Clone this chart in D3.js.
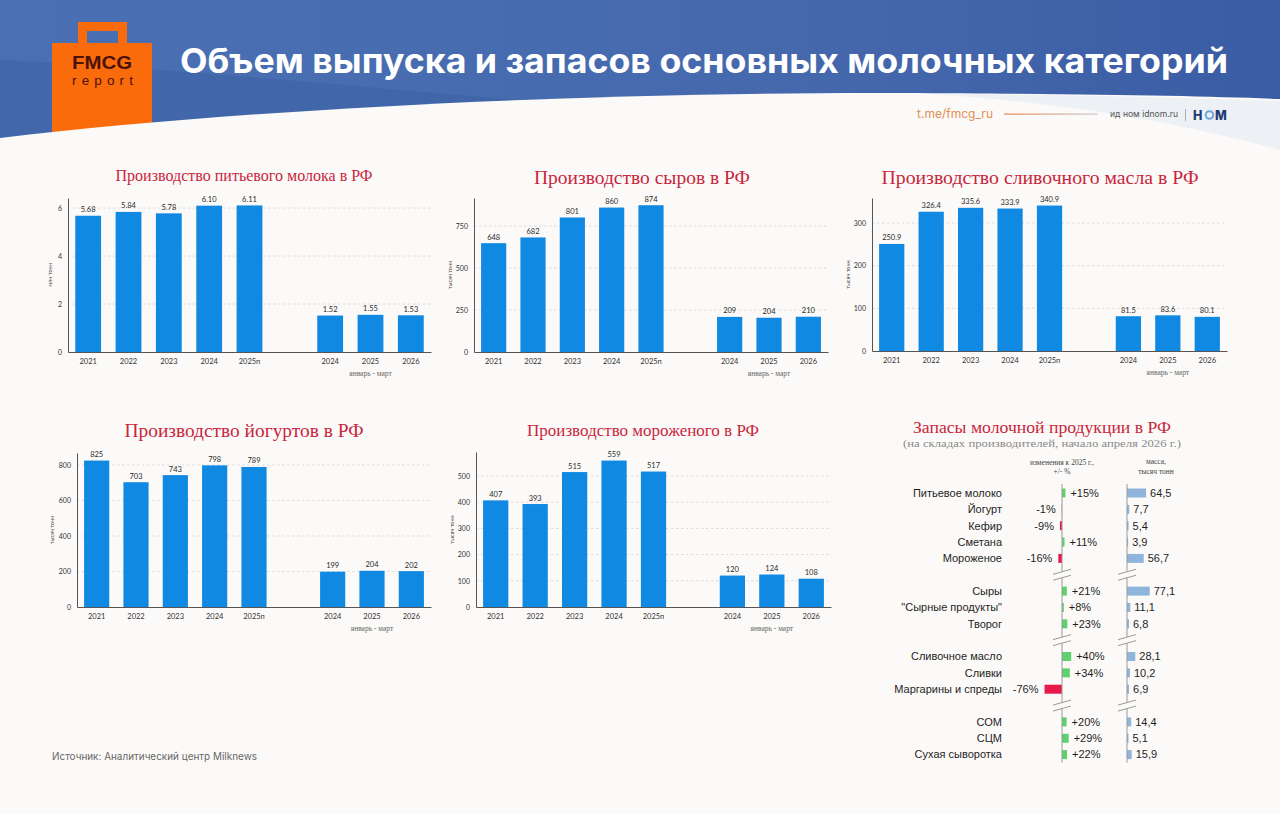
<!DOCTYPE html>
<html>
<head>
<meta charset="utf-8">
<script src="https://cdn.jsdelivr.net/npm/d3@7"></script>
<style>
  html, body { margin: 0; padding: 0; background: #fcfaf8; }
  svg { display: block; }
</style>
</head>
<body>
<svg id="page"></svg>
<script>
// ---- data ----
const yearLabels = ["2021", "2022", "2023", "2024", "2025п"];
const quarterLabels = ["2024", "2025", "2026"];

const milkYear = [5.68, 5.84, 5.78, 6.10, 6.11];
const milkQuarter = [1.52, 1.55, 1.53];
const milkTicks = [0, 2, 4, 6];

const cheeseYear = [648, 682, 801, 860, 874];
const cheeseQuarter = [209, 204, 210];
const cheeseTicks = [0, 250, 500, 750];

const butterYear = [250.9, 326.4, 335.6, 333.9, 340.9];
const butterQuarter = [81.5, 83.6, 80.1];
const butterTicks = [0, 100, 200, 300];

const yogurtYear = [825, 703, 743, 798, 789];
const yogurtQuarter = [199, 204, 202];
const yogurtTicks = [0, 200, 400, 600, 800];

const iceYear = [407, 393, 515, 559, 517];
const iceQuarter = [120, 124, 108];
const iceTicks = [0, 100, 200, 300, 400, 500];

const stockLabels = ["Питьевое молоко", "Йогурт", "Кефир", "Сметана", "Мороженое",
    "Сыры", "\"Сырные продукты\"", "Творог",
    "Сливочное масло", "Сливки", "Маргарины и спреды",
    "СОМ", "СЦМ", "Сухая сыворотка"];
const stockGroups = [0, 0, 0, 0, 0, 1, 1, 1, 2, 2, 2, 3, 3, 3];
const stockChange = [15, -1, -9, 11, -16, 21, 8, 23, 40, 34, -76, 20, 29, 22];
const stockMass = [64.5, 7.7, 5.4, 3.9, 56.7, 77.1, 11.1, 6.8, 28.1, 10.2, 6.9, 14.4, 5.1, 15.9];

// ---- layout ----
const W = 1280, H = 814;
const BG = "#fcfaf8";
const BAR = "#0f89e2";
const RED = "#c8263d";
const SERIF = "'Liberation Serif', 'DejaVu Serif', serif";
const SANS = "Lato, 'Liberation Sans', sans-serif";

const charts = [
    {title: "Производство питьевого молока в РФ", year: milkYear, quarter: milkQuarter, ticks: milkTicks,
     unit: "млн тонн", fmt: d3.format(".2f"), x0: 68, x1: 431, top: 198, base: 352, max: 6.42,
     titleX: 244, titleY: 181, titleSize: 16, titleW: 257, unitDx: 16},
    {title: "Производство сыров в РФ", year: cheeseYear, quarter: cheeseQuarter, ticks: cheeseTicks,
     unit: "тысяч тонн", fmt: d3.format("d"), x0: 474, x1: 828, top: 198, base: 352, max: 917,
     titleX: 642, titleY: 184, titleSize: 19, titleW: 216, unitDx: 22},
    {title: "Производство сливочного масла в РФ", year: butterYear, quarter: butterQuarter, ticks: butterTicks,
     unit: "тысяч тонн", fmt: d3.format(".1f"), x0: 872, x1: 1227, top: 198, base: 351, max: 358.6,
     titleX: 1040, titleY: 184, titleSize: 19, titleW: 317, unitDx: 22},
    {title: "Производство йогуртов в РФ", year: yogurtYear, quarter: yogurtQuarter, ticks: yogurtTicks,
     unit: "тысяч тонн", fmt: d3.format("d"), x0: 77, x1: 431, top: 453, base: 607, max: 867.6,
     titleX: 244, titleY: 437, titleSize: 19, titleW: 239, unitDx: 23},
    {title: "Производство мороженого в РФ", year: iceYear, quarter: iceQuarter, ticks: iceTicks,
     unit: "тысяч тонн", fmt: d3.format("d"), x0: 476, x1: 831, top: 452, base: 607, max: 591.6,
     titleX: 643, titleY: 436, titleSize: 17, titleW: 232, unitDx: 22}
];

const svg = d3.select("#page")
    .attr("width", W)
    .attr("height", H)
    .attr("viewBox", [0, 0, W, H].join(" "));

// ---- header ----
const defs = svg.append("defs");
const hdr = defs.append("linearGradient").attr("id", "hdr").attr("x1", 0).attr("x2", 1).attr("y1", 0).attr("y2", 0);
hdr.append("stop").attr("offset", 0).attr("stop-color", "#4a70b3");
hdr.append("stop").attr("offset", 0.6).attr("stop-color", "#4669ae");
hdr.append("stop").attr("offset", 1).attr("stop-color", "#3a5ca4");
const lineGrad = defs.append("linearGradient").attr("id", "tgline").attr("x1", 0).attr("x2", 1);
lineGrad.append("stop").attr("offset", 0).attr("stop-color", "#e8874a");
lineGrad.append("stop").attr("offset", 1).attr("stop-color", "#c9c9d2");

svg.append("rect").attr("width", W).attr("height", 160).attr("fill", "url(#hdr)");
svg.append("path")
    .attr("d", "M0,60 C130,66 340,84 560,104 L0,142 Z")
    .attr("fill", "#3d60a4").attr("opacity", 0.55);

// bag logo
svg.append("rect").attr("x", 82.5).attr("y", 26.5).attr("width", 40).attr("height", 22)
    .attr("fill", "none").attr("stroke", "#fa6b0c").attr("stroke-width", 9);
svg.append("rect").attr("x", 52).attr("y", 43).attr("width", 100).attr("height", 100).attr("fill", "#fa6b0c");

// white page below the curve
svg.append("path")
    .attr("d", "M0,138 C250,108 600,92 900,93 C1100,94 1200,96 1280,99 L1280,814 L0,814 Z")
    .attr("fill", BG);
svg.append("path")
    .attr("d", "M930,94 C1100,95 1220,99 1280,101 L1280,150 C1180,122 1060,102 930,94 Z")
    .attr("fill", "#e3e9f2").attr("opacity", 0.6);

svg.append("text").attr("x", 72).attr("y", 69).text("FMCG")
    .attr("font-family", "'Liberation Sans', Arial, sans-serif").attr("font-weight", 700)
    .attr("font-size", 19).attr("fill", "#4a1208")
    .attr("textLength", 60).attr("lengthAdjust", "spacingAndGlyphs");
svg.append("text").attr("x", 72).attr("y", 85).text("report")
    .attr("font-family", "'Liberation Sans', Arial, sans-serif")
    .attr("font-size", 13.5).attr("fill", "#4a1208")
    .attr("textLength", 61).attr("lengthAdjust", "spacing");

svg.append("text").attr("x", 180).attr("y", 73)
    .text("Объем выпуска и запасов основных молочных категорий")
    .attr("font-family", "Inter, 'Open Sans', sans-serif").attr("font-weight", 700)
    .attr("font-size", 34).attr("fill", "#ffffff")
    .attr("textLength", 1048).attr("lengthAdjust", "spacingAndGlyphs");

// links
svg.append("text").attr("x", 917).attr("y", 118).text("t.me/fmcg_ru")
    .attr("font-family", "Inter, sans-serif").attr("font-size", 12.5).attr("fill", "#e38f55")
    .attr("textLength", 76).attr("lengthAdjust", "spacingAndGlyphs");
svg.append("rect").attr("x", 1004).attr("y", 113.5).attr("width", 94).attr("height", 1.2).attr("fill", "url(#tgline)");
svg.append("text").attr("x", 1110).attr("y", 117).text("ид ном idnom.ru")
    .attr("font-family", "Inter, sans-serif").attr("font-size", 9).attr("fill", "#555")
    .attr("textLength", 68).attr("lengthAdjust", "spacingAndGlyphs");
svg.append("line").attr("x1", 1185.5).attr("x2", 1185.5).attr("y1", 109).attr("y2", 121)
    .attr("stroke", "#aab").attr("stroke-width", 1);
svg.append("text").attr("x", 1193).attr("y", 119.5).text("Н")
    .attr("font-family", "Inter, sans-serif").attr("font-weight", 800).attr("font-size", 12.5).attr("fill", "#1e3a72");
svg.append("circle").attr("cx", 1209.5).attr("cy", 115).attr("r", 3.8)
    .attr("fill", "none").attr("stroke", "#6fa6dc").attr("stroke-width", 2);
svg.append("text").attr("x", 1215).attr("y", 119.5).text("М")
    .attr("font-family", "Inter, sans-serif").attr("font-weight", 800).attr("font-size", 12.5).attr("fill", "#1e3a72");

// ---- bar charts ----
function drawBarChart(c) {
    const keys = yearLabels.map((d, i) => "y" + i)
        .concat(["gap"], quarterLabels.map((d, i) => "q" + i));
    const names = {};
    yearLabels.forEach((d, i) => names["y" + i] = d);
    quarterLabels.forEach((d, i) => names["q" + i] = d);
    names.gap = "";

    const x = d3.scaleBand().domain(keys).range([c.x0, c.x1]).paddingInner(0.36).paddingOuter(0.18);
    const y = d3.scaleLinear().domain([0, c.max]).range([c.base, c.top]);
    const rows = c.year.map((v, i) => ({key: "y" + i, v: v}))
        .concat(c.quarter.map((v, i) => ({key: "q" + i, v: v})));

    const g = svg.append("g");

    // dashed reference lines
    g.selectAll("line.grid").data(c.ticks.filter(t => t > 0)).join("line")
        .attr("class", "grid")
        .attr("x1", c.x0).attr("x2", c.x1)
        .attr("y1", d => y(d)).attr("y2", d => y(d))
        .attr("stroke", "#cfcfcf").attr("stroke-width", 0.7).attr("stroke-dasharray", "2.5,2.5");

    // bars
    g.selectAll("rect.bar").data(rows).join("rect")
        .attr("class", "bar")
        .attr("x", d => x(d.key))
        .attr("width", x.bandwidth())
        .attr("y", d => y(d.v))
        .attr("height", d => c.base - y(d.v))
        .attr("fill", BAR);

    g.selectAll("text.val").data(rows).join("text")
        .attr("class", "val")
        .attr("x", d => x(d.key) + x.bandwidth() / 2)
        .attr("y", d => y(d.v) - 3.5)
        .attr("text-anchor", "middle")
        .attr("font-family", SANS).attr("font-size", 7.5).attr("fill", "#2a2a2a")
        .text(d => c.fmt(d.v));

    // y axis
    const yAxis = g.append("g")
        .attr("transform", `translate(${c.x0},0)`)
        .call(d3.axisLeft(y).tickValues(c.ticks).tickSize(0).tickPadding(6).tickFormat(d3.format("d")));
    yAxis.select(".domain").attr("stroke", "#555").attr("stroke-width", 1);
    yAxis.selectAll("text").attr("font-family", SANS).attr("font-size", 7).attr("fill", "#333");

    // x axis
    const xAxis = g.append("g")
        .attr("transform", `translate(0,${c.base})`)
        .call(d3.axisBottom(x).tickSize(0).tickPadding(7).tickFormat(k => names[k]));
    xAxis.select(".domain").attr("stroke", "#555").attr("stroke-width", 1);
    xAxis.selectAll("text").attr("font-family", SANS).attr("font-size", 7.5).attr("fill", "#333");

    g.append("text")
        .attr("x", x("q1") + x.bandwidth() / 2)
        .attr("y", c.base + 24)
        .attr("text-anchor", "middle")
        .attr("font-family", SERIF).attr("font-size", 7.5).attr("fill", "#666")
        .text("январь - март");

    g.append("text")
        .attr("transform", `translate(${c.x0 - c.unitDx},${(c.top + c.base) / 2}) rotate(-90)`)
        .attr("text-anchor", "middle")
        .attr("font-family", SANS).attr("font-size", 5.5).attr("fill", "#444")
        .text(c.unit);

    g.append("text")
        .attr("x", c.titleX).attr("y", c.titleY)
        .attr("text-anchor", "middle")
        .attr("font-family", SERIF).attr("font-size", c.titleSize).attr("fill", RED)
        .attr("textLength", c.titleW).attr("lengthAdjust", "spacingAndGlyphs")
        .text(c.title);
}

charts.forEach(drawBarChart);

// ---- stocks panel ----
const sp = {labelX: 1002, chgAxis: 1062, massAxis: 1127, row0: 493, row16: 754.6, barH: 9};
const slots = stockLabels.map((d, i) => i + stockGroups[i]);
const breaks = [5, 9, 13];
const yRow = d3.scaleLinear().domain([0, 16]).range([sp.row0, sp.row16]);
const chgX = d3.scaleLinear().domain([-100, 100]).range([sp.chgAxis - 23, sp.chgAxis + 23]);
const massX = d3.scaleLinear().domain([0, 100]).range([sp.massAxis, sp.massAxis + 29.5]);
const stock = stockLabels.map((d, i) => ({label: d, chg: stockChange[i], mass: stockMass[i], slot: slots[i]}));
const ARIAL = "'Liberation Sans', Arial, sans-serif";

const sg = svg.append("g");

sg.append("text").attr("x", 1042).attr("y", 433).attr("text-anchor", "middle")
    .attr("font-family", SERIF).attr("font-size", 16).attr("fill", RED)
    .attr("textLength", 258).attr("lengthAdjust", "spacingAndGlyphs")
    .text("Запасы молочной продукции в РФ");
sg.append("text").attr("x", 1042).attr("y", 447).attr("text-anchor", "middle")
    .attr("font-family", SERIF).attr("font-size", 11).attr("fill", "#8a8a8a")
    .attr("textLength", 278).attr("lengthAdjust", "spacingAndGlyphs")
    .text("(на складах производителей, начало апреля 2026 г.)");

[["изменения к 2025 г.,", sp.chgAxis, 465], ["+/- %", sp.chgAxis, 474],
 ["масса,", sp.massAxis + 29, 464], ["тысяч тонн", sp.massAxis + 29, 474]].forEach(h => {
    sg.append("text").attr("x", h[1]).attr("y", h[2]).attr("text-anchor", "middle")
        .attr("font-family", SERIF).attr("font-size", 7.5).attr("fill", "#444").text(h[0]);
});

sg.selectAll("text.lab").data(stock).join("text")
    .attr("class", "lab")
    .attr("x", sp.labelX).attr("y", d => yRow(d.slot)).attr("dy", "0.35em")
    .attr("text-anchor", "end")
    .attr("font-family", ARIAL).attr("font-size", 11).attr("fill", "#1e1e1e")
    .text(d => d.label);

sg.selectAll("rect.chg").data(stock).join("rect")
    .attr("class", "chg")
    .attr("x", d => Math.min(chgX(0), chgX(d.chg)))
    .attr("width", d => Math.abs(chgX(d.chg) - chgX(0)))
    .attr("y", d => yRow(d.slot) - sp.barH / 2)
    .attr("height", sp.barH)
    .attr("fill", d => d.chg >= 0 ? "#5fd16c" : "#e8194b");

sg.selectAll("text.chgv").data(stock).join("text")
    .attr("class", "chgv")
    .attr("x", d => d.chg >= 0 ? chgX(d.chg) + 5 : chgX(d.chg) - 6)
    .attr("y", d => yRow(d.slot)).attr("dy", "0.35em")
    .attr("text-anchor", d => d.chg >= 0 ? "start" : "end")
    .attr("font-family", ARIAL).attr("font-size", 11).attr("fill", "#1e1e1e")
    .text(d => (d.chg > 0 ? "+" : "") + d.chg + "%");

sg.selectAll("rect.mass").data(stock).join("rect")
    .attr("class", "mass")
    .attr("x", massX(0))
    .attr("width", d => massX(d.mass) - massX(0))
    .attr("y", d => yRow(d.slot) - sp.barH / 2)
    .attr("height", sp.barH)
    .attr("fill", "#8fb5dc");

sg.selectAll("text.massv").data(stock).join("text")
    .attr("class", "massv")
    .attr("x", d => massX(d.mass) + 4)
    .attr("y", d => yRow(d.slot)).attr("dy", "0.35em")
    .attr("font-family", ARIAL).attr("font-size", 11).attr("fill", "#1e1e1e")
    .text(d => d3.format(".1f")(d.mass).replace(".", ","));

// axis lines with break marks
const cuts = [yRow(0) - 9].concat(...breaks.map(b => [yRow(b) - 3, yRow(b) + 3]), [yRow(16) + 8]);
[sp.chgAxis, sp.massAxis].forEach(ax => {
    for (let i = 0; i < cuts.length; i += 2) {
        sg.append("line")
            .attr("x1", ax).attr("x2", ax).attr("y1", cuts[i]).attr("y2", cuts[i + 1])
            .attr("stroke", "#9a9a9a").attr("stroke-width", 1);
    }
    breaks.forEach(b => {
        [-3, 3].forEach(off => {
            sg.append("line")
                .attr("x1", ax - 9).attr("x2", ax + 9)
                .attr("y1", yRow(b) + off + 2.5).attr("y2", yRow(b) + off - 2.5)
                .attr("stroke", "#9a9a9a").attr("stroke-width", 1);
        });
    });
});

// source
svg.append("text").attr("x", 52).attr("y", 760)
    .attr("font-family", "Inter, 'Open Sans', sans-serif").attr("font-size", 10).attr("fill", "#666")
    .attr("textLength", 205).attr("lengthAdjust", "spacingAndGlyphs")
    .text("Источник: Аналитический центр Milknews");
</script>
</body>
</html>
